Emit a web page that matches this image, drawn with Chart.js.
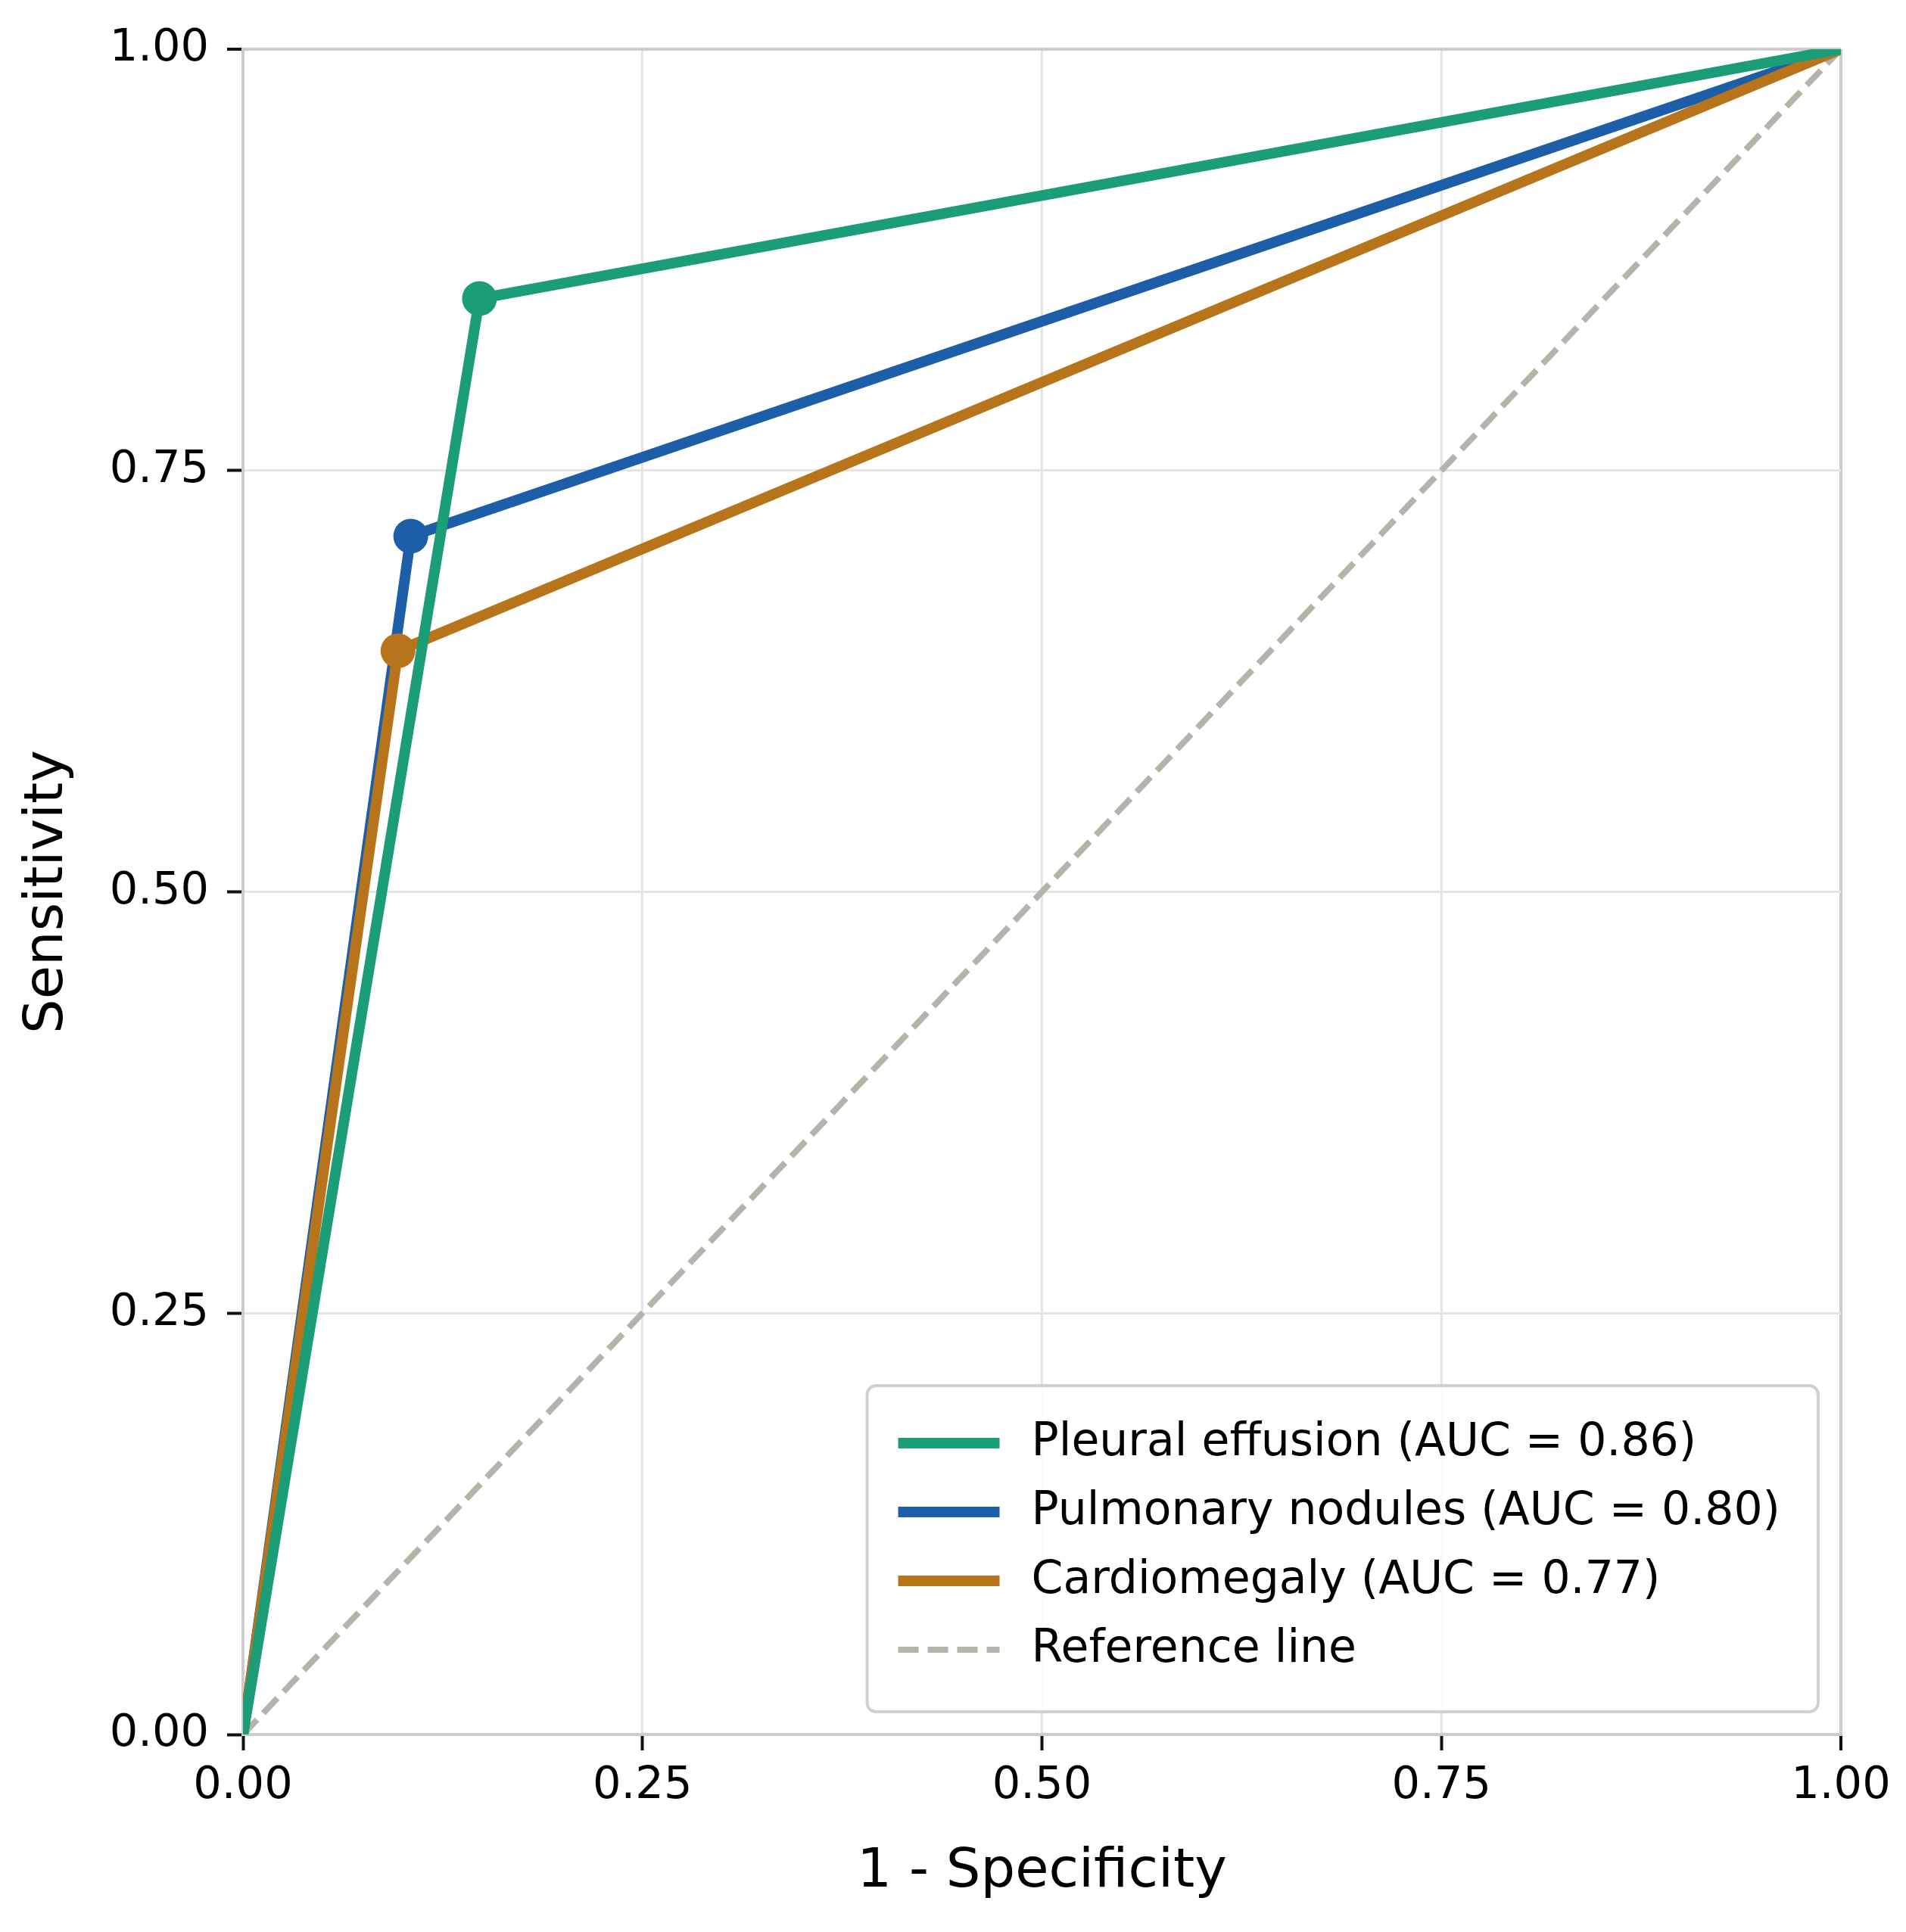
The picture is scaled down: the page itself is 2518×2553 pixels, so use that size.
<!DOCTYPE html>
<html>
<head>
<meta charset="utf-8">
<script src="https://cdn.jsdelivr.net/npm/chart.js@4.4.1/dist/chart.umd.min.js"></script>
<style>
  html, body { margin: 0; padding: 0; background: #fff; }
  #wrap { width: 2518px; height: 2553px; position: relative; }
</style>
</head>
<body>
<div id="wrap"><canvas id="roc"></canvas></div>
<script>
/* ===== DATA ===== */
const DISEASES = ["Pleural effusion", "Pulmonary nodules", "Cardiomegaly"];
const AUC = [0.86, 0.80, 0.77];
const FPR = [
  [0, 0.148, 1],
  [0, 0.105, 1],
  [0, 0.097, 1],
];
const TPR = [
  [0, 0.852, 1],
  [0, 0.711, 1],
  [0, 0.643, 1],
];
const REF_X = [0, 1];
const REF_Y = [0, 1];
const TICKS = [0, 0.25, 0.5, 0.75, 1];

/* ===== STYLE ===== */
const COLORS = ["#1b9e77", "#1c5ea8", "#b8741a"];
const DRAW_ORDER = [0, 2, 1]; // green on top, orange over blue
const REF_COLOR = "#b4b4ab";
const SPINE = "#cccccc";
const FONT = '"DejaVu Sans"';

function toPoints(xs, ys) {
  return xs.map((x, i) => ({ x, y: ys[i] }));
}

// marker only on the operating point, not on the (0,0) / (1,1) ends
function markerSize(xs) {
  return xs.map((x) => (x === 0 || x === 1 ? 0 : 23));
}

const datasets = DISEASES.map((name, i) => ({
  label: `${name} (AUC = ${AUC[i].toFixed(2)})`,
  data: toPoints(FPR[i], TPR[i]),
  showLine: true,
  borderColor: COLORS[i],
  backgroundColor: COLORS[i],
  borderWidth: 14,
  pointRadius: markerSize(FPR[i]),
  pointHoverRadius: markerSize(FPR[i]),
  pointBorderWidth: 0,
  order: DRAW_ORDER[i],
  clip: 0,
}));

datasets.push({
  label: "Reference line",
  data: toPoints(REF_X, REF_Y),
  showLine: true,
  borderColor: REF_COLOR,
  backgroundColor: REF_COLOR,
  borderWidth: 8,
  borderDash: [27, 12],
  pointRadius: 0,
  order: 3,
  clip: 0,
});

/* ===== LEGEND (inside plot, lower right) ===== */
const rocLegend = {
  id: "rocLegend",
  afterDatasetsDraw(chart) {
    const { ctx, chartArea } = chart;
    const sets = chart.data.datasets;
    ctx.save();
    ctx.font = `60px ${FONT}`;
    const textW = Math.max(...sets.map((d) => ctx.measureText(d.label).width));
    const w = 217 + textW + 50;
    const h = 431;
    const x0 = chartArea.right - 30 - w;
    const y0 = chartArea.bottom - 30 - h;

    ctx.beginPath();
    ctx.roundRect(x0, y0, w, h, 12);
    ctx.fillStyle = "rgba(255,255,255,0.85)";
    ctx.fill();
    ctx.lineWidth = 4;
    ctx.strokeStyle = "#d0d0d0";
    ctx.stroke();

    sets.forEach((d, i) => {
      const cy = y0 + 76 + i * 91;
      ctx.beginPath();
      ctx.setLineDash(d.borderDash || []);
      ctx.lineWidth = d.borderWidth;
      ctx.strokeStyle = d.borderColor;
      ctx.moveTo(x0 + 41, cy);
      ctx.lineTo(x0 + 175, cy);
      ctx.stroke();
      ctx.setLineDash([]);
      ctx.fillStyle = "#000";
      ctx.textAlign = "left";
      ctx.textBaseline = "middle";
      ctx.fillText(d.label, x0 + 217, cy);
    });
    ctx.restore();
  },
};

/* ===== AXES ===== */
function axis(title, titlePad, tickPad, fitSize, horizontal) {
  return {
    type: "linear",
    min: 0,
    max: 1,
    afterBuildTicks: (s) => {
      s.ticks = TICKS.map((v) => ({ value: v }));
    },
    afterFit: (s) => {
      if (horizontal) s.height = fitSize;
      else s.width = fitSize;
    },
    ticks: {
      color: "#000",
      padding: tickPad,
      font: { family: FONT, size: 59 },
      callback: (v) => Number(v).toFixed(2),
    },
    grid: {
      color: (c) => (c.tick && c.tick.value === 1 ? SPINE : "#e4e4e4"),
      lineWidth: (c) => (c.tick && c.tick.value === 1 ? 4 : 3),
      tickColor: "#111",
      tickLength: 21,
      tickWidth: 4,
    },
    border: { color: SPINE, width: 4 },
    title: {
      display: true,
      text: title,
      color: "#000",
      font: { family: FONT, size: 72 },
      padding: titlePad,
    },
  };
}

new Chart(document.getElementById("roc"), {
  type: "scatter",
  data: { datasets },
  options: {
    responsive: true,
    maintainAspectRatio: false,
    devicePixelRatio: 1,
    animation: false,
    events: [],
    layout: { padding: { left: 0, top: 65, right: 86, bottom: 0 } },
    scales: {
      x: axis("1 - Specificity", { top: 0, bottom: 36 }, 12, 261, true),
      y: axis("Sensitivity", { top: 20, bottom: 0 }, 24, 321, false),
    },
    plugins: {
      legend: { display: false },
      tooltip: { enabled: false },
    },
  },
  plugins: [rocLegend],
});
</script>
</body>
</html>
